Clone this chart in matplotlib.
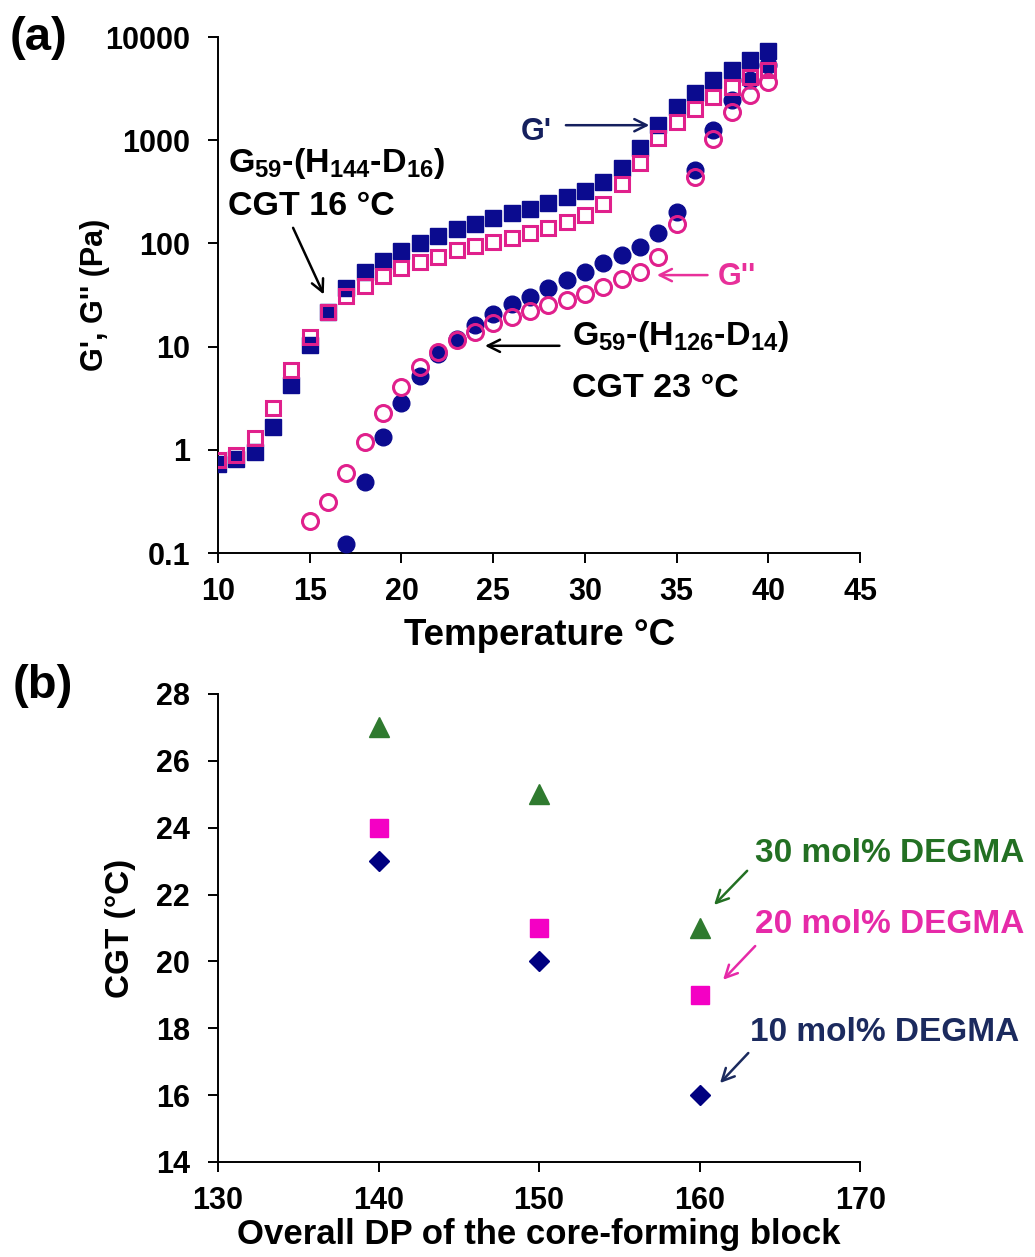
import matplotlib
matplotlib.use("Agg")
import matplotlib.pyplot as plt
import numpy as np

plt.rcParams['font.family'] = ['Liberation Sans', 'DejaVu Sans']
plt.rcParams['font.weight'] = 'bold'
plt.rcParams['mathtext.fontset'] = 'custom'
plt.rcParams['mathtext.rm'] = 'Liberation Sans:bold'
plt.rcParams['mathtext.it'] = 'Liberation Sans:bold'
plt.rcParams['mathtext.bf'] = 'Liberation Sans:bold'
plt.rcParams['mathtext.default'] = 'regular'

# ---- panel (a) data: temperature sweep ----
temp = np.arange(10, 41)
# G59-(H144-D16): storage (G') and loss (G'') modulus, Pa
g1_store = [0.73, 0.82, 0.96, 1.67, 4.26, 10.4, 21.5, 37, 53, 68, 84, 100, 117, 137, 156,
            175, 198, 216, 245, 280, 320, 391, 535, 836, 1400, 2090, 2860, 3810, 4780, 5980, 7310]
g1_loss = [0.80, 0.89, 1.31, 2.55, 5.95, 12.4, 21.7, 31, 38.7, 48.3, 57.8, 66, 73.8, 86.3, 94.4,
           103, 114, 126, 141, 161, 188, 241, 376, 600, 1048, 1497, 2000, 2616, 3270, 4080, 4800]
# G59-(H126-D14): starts later
temp2_store = np.arange(17, 41)
g2_store = [0.123, 0.49, 1.34, 2.85, 5.2, 8.5, 11.9, 16.2, 20.8, 26, 30.3, 37, 44, 52.9, 64.6,
            77, 92, 126, 201, 514, 1250, 2440, 3800, 5330]
temp2_loss = np.arange(15, 41)
g2_loss = [0.206, 0.314, 0.60, 1.2, 2.29, 4.07, 6.36, 8.9, 11.6, 13.9, 16.9, 19.6, 22, 25.3, 28.3,
           32.3, 37.8, 45.2, 52.8, 73.8, 154, 439, 1025, 1870, 2730, 3640]

# ---- panel (b) data: CGT vs overall DP ----
dp = [140, 150, 160]
cgt_30 = [27, 25, 21]
cgt_20 = [24, 21, 19]
cgt_10 = [23, 20, 16]

navy = '#0B0B8F'
magenta = '#E0208C'
pink = '#F400C4'
green = '#2F7A2F'
diamond_c = '#000080'

fig = plt.figure(figsize=(10.35, 12.57), dpi=100)

ax1 = fig.add_axes([0.2106, 0.560, 0.6205, 0.4105])
ax1.set_yscale('log')
ax1.plot(temp, g1_store, 's', ms=11.5, color=navy, mec=navy, zorder=3)
ax1.plot(temp2_store, g2_store, 'o', ms=12, color=navy, mec=navy, zorder=3)
ax1.plot(temp, g1_loss, 's', ms=10.5, mfc='none', mec=magenta, mew=2.2, zorder=4)
ax1.plot(temp2_loss, g2_loss, 'o', ms=11.5, mfc='none', mec=magenta, mew=2.2, zorder=4)

ax1.set_xlim(10, 45)
ax1.set_ylim(0.1, 10000)
ax1.set_xticks(range(10, 50, 5))
ax1.set_yticks([0.1, 1, 10, 100, 1000, 10000])
ax1.set_yticklabels(['0.1', '1', '10', '100', '1000', '10000'])
ax1.minorticks_off()
ax1.set_xlabel('Temperature °C', fontsize=26.5, fontweight='bold', labelpad=8)
ax1.set_ylabel("G', G'' (Pa)", fontsize=22, fontweight='bold')
ax1.yaxis.set_label_coords(-0.168, 0.5)

# annotations
ax1.text(10.55, 491, r'G$_{59}$-(H$_{144}$-D$_{16}$)', fontsize=24.5, fontweight='bold', va='baseline')
ax1.text(10.55, 188, 'CGT 16 °C', fontsize=24.5, fontweight='bold', va='baseline')
ax1.annotate('', xy=(15.83, 30.3), xytext=(14.03, 150),
             arrowprops=dict(arrowstyle='->', color='black', lw=1.8, mutation_scale=22))
ax1.text(29.3, 10.4, r'G$_{59}$-(H$_{126}$-D$_{14}$)', fontsize=24.5, fontweight='bold', va='baseline')
ax1.text(29.3, 3.26, 'CGT 23 °C', fontsize=24.5, fontweight='bold', va='baseline')
ax1.annotate('', xy=(24.4, 10.2), xytext=(28.76, 10.2),
             arrowprops=dict(arrowstyle='->', color='black', lw=1.8, mutation_scale=22))
ax1.text(26.5, 1000, "G'", fontsize=22, fontweight='bold', color='#15205E', va='baseline')
ax1.annotate('', xy=(33.66, 1400), xytext=(28.81, 1400),
             arrowprops=dict(arrowstyle='->', color='#15205E', lw=1.8, mutation_scale=22))
ax1.text(37.26, 39.6, "G''", fontsize=22, fontweight='bold', color='#E8309A', va='baseline')
ax1.annotate('', xy=(33.77, 49.4), xytext=(36.83, 49.4),
             arrowprops=dict(arrowstyle='->', color='#E8309A', lw=1.8, mutation_scale=22))

ax2 = fig.add_axes([0.2106, 0.0756, 0.6205, 0.3723])
ax2.plot(dp, cgt_30, '^', ms=14, color=green)
ax2.plot(dp, cgt_20, 's', ms=13, color=pink)
ax2.plot(dp, cgt_10, 'D', ms=10.5, color=diamond_c)
ax2.set_xlim(130, 170)
ax2.set_ylim(14, 28)
ax2.set_xticks(range(130, 171, 10))
ax2.set_yticks(range(14, 29, 2))
ax2.set_xlabel('Overall DP of the core-forming block', fontsize=25, fontweight='bold', labelpad=2)
ax2.set_ylabel('CGT (°C)', fontsize=24, fontweight='bold')
ax2.yaxis.set_label_coords(-0.128, 0.5)

ax2.text(163.46, 23.24, '30 mol% DEGMA', fontsize=24, fontweight='bold', color='#237023', va='center')
ax2.text(163.46, 21.09, '20 mol% DEGMA', fontsize=24, fontweight='bold', color='#E62AA8', va='center')
ax2.text(163.15, 17.86, '10 mol% DEGMA', fontsize=24, fontweight='bold', color='#1B2A5E', va='center')
ax2.annotate('', xy=(160.78, 21.63), xytext=(163.08, 22.77),
             arrowprops=dict(arrowstyle='->', color='#237023', lw=1.8, mutation_scale=22))
ax2.annotate('', xy=(161.34, 19.39), xytext=(163.58, 20.52),
             arrowprops=dict(arrowstyle='->', color='#E62AA8', lw=1.8, mutation_scale=22))
ax2.annotate('', xy=(161.15, 16.30), xytext=(163.15, 17.32),
             arrowprops=dict(arrowstyle='->', color='#1B2A5E', lw=1.8, mutation_scale=22))

for ax in (ax1, ax2):
    ax.spines['top'].set_visible(False)
    ax.spines['right'].set_visible(False)
    ax.spines['left'].set_linewidth(1.4)
    ax.spines['bottom'].set_linewidth(1.4)
    ax.tick_params(direction='out', length=7, width=1.4, labelsize=22)
    ax.tick_params(axis='y', pad=13)
    ax.tick_params(axis='x', pad=10)
    for lbl in ax.get_xticklabels() + ax.get_yticklabels():
        lbl.set_fontweight('bold')

fig.text(0.009, 1 - 16 / 1257, '(a)', fontsize=34, fontweight='bold', va='top')
fig.text(0.012, 1 - 664 / 1257, '(b)', fontsize=34, fontweight='bold', va='top')

fig.savefig('out.png', dpi=100)
